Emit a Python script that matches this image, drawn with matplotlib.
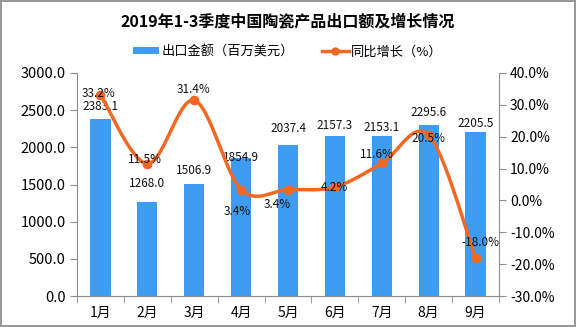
import matplotlib
matplotlib.use("Agg")
import matplotlib.pyplot as plt
from matplotlib.lines import Line2D
from matplotlib.patches import Patch
import numpy as np

plt.rcParams["font.family"] = ["Noto Sans CJK SC", "DejaVu Sans"]

# --- Data -------------------------------------------------------------------
months = ["1月", "2月", "3月", "4月", "5月", "6月", "7月", "8月", "9月"]
export_value = [2383.1, 1268.0, 1506.9, 1854.9, 2037.4, 2157.3, 2153.1, 2295.6, 2205.5]
yoy_growth = [33.2, 11.5, 31.4, 3.4, 3.4, 4.2, 11.6, 20.5, -18.0]

BAR_COLOR = "#3D9CF0"
LINE_COLOR = "#F26722"
AXIS_COLOR = "#8C8C8C"

# label nudges in pixels (dx, dy)
bar_label_dy = [12, 18, 13, 1, 16, 10, 8, 13, 9]
line_label_off = [(-2, 1), (-2, 4), (-1, 11), (-4, -22), (-11, -15),
                  (-1, 0), (-5, 9), (0, -3), (5, 15)]


def catmull_rom(xs, ys, n=30):
    """Smooth curve through the points (like a spreadsheet 'smoothed line')."""
    p = np.column_stack([xs, ys]).astype(float)
    p = np.vstack([p[0], p, p[-1]])
    out = []
    t = np.linspace(0, 1, n)[:, None]
    for i in range(1, len(p) - 2):
        p0, p1, p2, p3 = p[i - 1], p[i], p[i + 1], p[i + 2]
        m1 = (p2 - p0) / 2
        m2 = (p3 - p1) / 2
        h00 = 2 * t**3 - 3 * t**2 + 1
        h10 = t**3 - 2 * t**2 + t
        h01 = -2 * t**3 + 3 * t**2
        h11 = t**3 - t**2
        seg = h00 * p1 + h10 * m1 + h01 * p2 + h11 * m2
        out.append(seg if i == 1 else seg[1:])
    c = np.vstack(out)
    return c[:, 0], c[:, 1]


fig = plt.figure(figsize=(5.76, 3.27), dpi=100)
fig.patch.set_edgecolor("#9A9A9A")
fig.patch.set_linewidth(1.5)

ax = fig.add_axes([77 / 576, 31 / 327, 422 / 576, 223 / 327])
ax2 = ax.twinx()
ax.set_zorder(ax2.get_zorder() - 1)
ax.patch.set_visible(True)
ax2.patch.set_visible(False)

x = np.arange(len(months))
ax.bar(x, export_value, width=0.43, color=BAR_COLOR, zorder=2)
for xi, v, dy in zip(x, export_value, bar_label_dy):
    ax.annotate(f"{v:.1f}", (xi, v), xytext=(0, dy), textcoords="offset pixels",
                ha="center", va="center", fontsize=8.5, color="#111111")

ax.set_xlim(-0.5, len(months) - 0.5)
ax.set_ylim(0, 3000)
ax.set_yticks(np.arange(0, 3001, 500))
ax.set_yticklabels([f"{t:.1f}" for t in np.arange(0, 3001, 500)])
ax.set_xticks(x)
ax.set_xticklabels(months)
ax.set_xticks(np.arange(-0.5, len(months)), minor=True)
ax.tick_params(axis="x", which="major", length=0, pad=7, labelsize=10)
ax.tick_params(axis="x", which="minor", length=5, color=AXIS_COLOR, direction="out")
ax.tick_params(axis="y", length=5, color=AXIS_COLOR, labelsize=10.5, pad=3)

sx, sy = catmull_rom(x, yoy_growth)
ax2.plot(sx, sy, color=LINE_COLOR, linewidth=2.5, solid_capstyle="round", zorder=3)
ax2.plot(x, yoy_growth, "o", color=LINE_COLOR, markersize=6, zorder=4)
for xi, v, (dx, dy) in zip(x, yoy_growth, line_label_off):
    ax2.annotate(f"{v:.1f}%", (xi, v), xytext=(dx, dy), textcoords="offset pixels",
                 ha="center", va="center", fontsize=8.5, color="#111111", zorder=5)
ax2.set_ylim(-30, 40)
ax2.set_yticks(np.arange(-30, 41, 10))
ax2.set_yticklabels([f"{t:.1f}%" for t in np.arange(-30, 41, 10)])
ax2.tick_params(axis="y", length=5, color=AXIS_COLOR, labelsize=10, pad=3)

for a in (ax, ax2):
    a.spines["top"].set_visible(False)
    for s in ("left", "right", "bottom"):
        a.spines[s].set_color(AXIS_COLOR)
ax.spines["right"].set_visible(False)
ax2.spines["left"].set_visible(False)
ax2.spines["bottom"].set_visible(False)

fig.text(0.5, 1 - 22 / 327, "2019年1-3季度中国陶瓷产品出口额及增长情况",
         ha="center", va="center", fontsize=11.5, fontweight="bold")

handles = [
    Patch(facecolor=BAR_COLOR, edgecolor="none"),
    Line2D([], [], color=LINE_COLOR, linewidth=2.5, marker="o", markersize=5),
]
fig.legend(handles, ["出口金额（百万美元）", "同比增长（%）"], loc="center",
           bbox_to_anchor=(0.5, 1 - 52 / 327), ncol=2, frameon=False,
           fontsize=9.5, handlelength=2.0, handleheight=0.45, columnspacing=2.1,
           handletextpad=0.2)

fig.savefig("out.png", dpi=100)
